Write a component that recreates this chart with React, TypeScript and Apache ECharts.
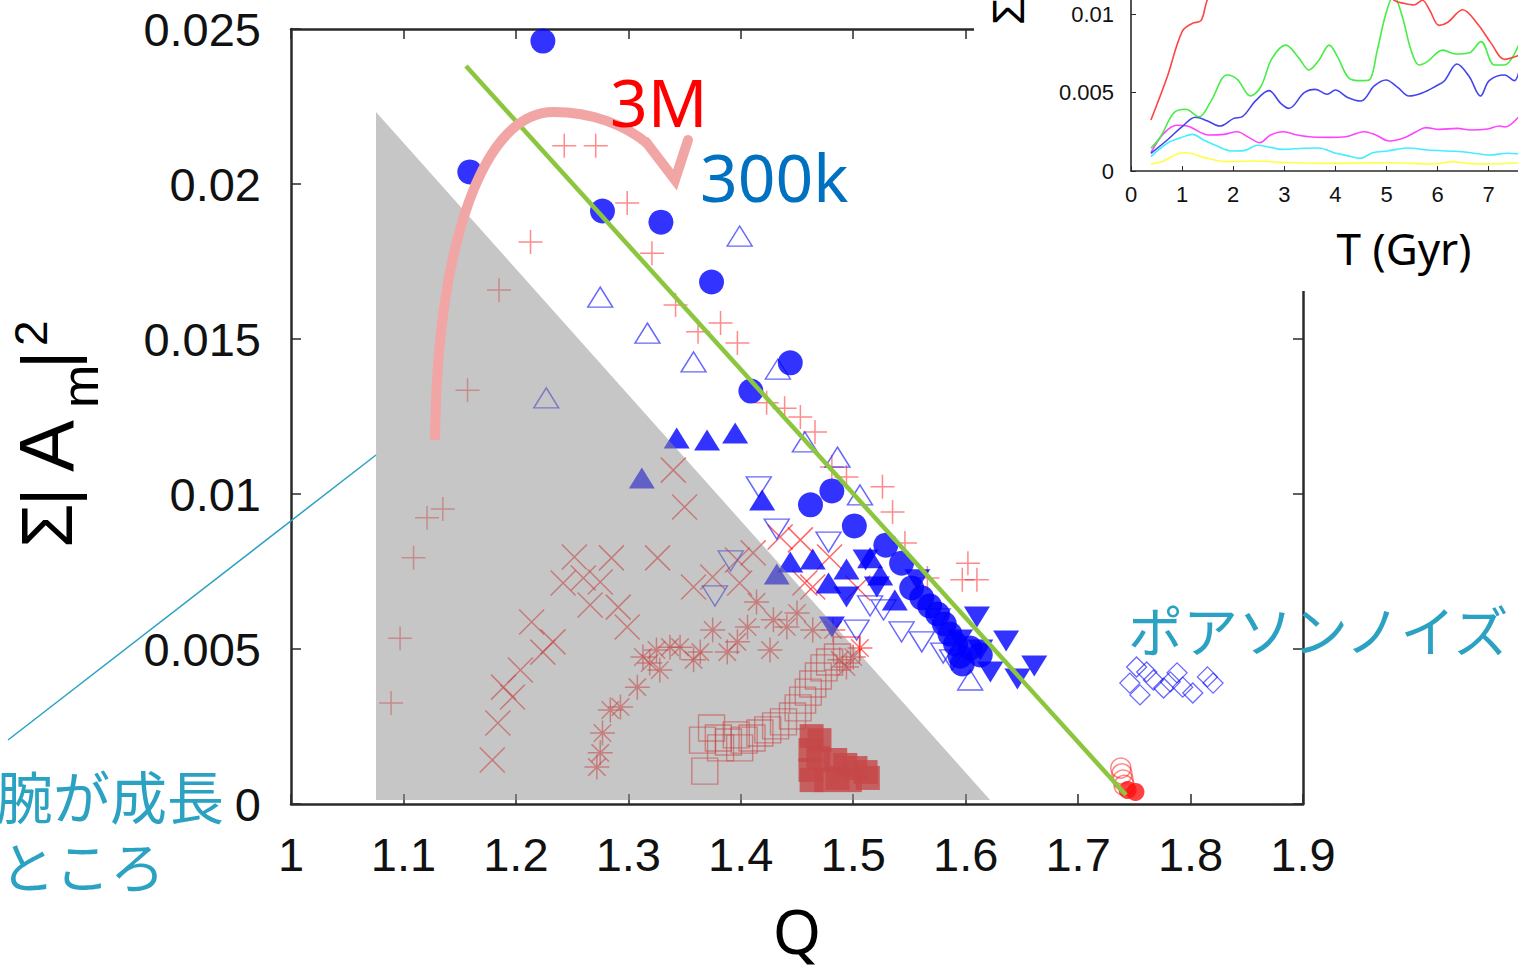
import React, { useEffect, useRef } from "react";
import * as echarts from "echarts";

// ---------- main panel data: [Q, Σ|Am|^2] ----------
const blueFilledCircles = [
  [1.224, 0.02461], [1.159, 0.02039], [1.277, 0.01913], [1.329, 0.01877], [1.374, 0.01684],
  [1.444, 0.01423], [1.409, 0.01332], [1.481, 0.0101], [1.462, 0.00965], [1.501, 0.00897],
  [1.529, 0.00835], [1.543, 0.00777], [1.552, 0.00697], [1.561, 0.00665], [1.568, 0.00639],
  [1.575, 0.00613], [1.581, 0.00581], [1.586, 0.00548], [1.591, 0.00516], [1.595, 0.00477],
  [1.597, 0.00452], [1.604, 0.00503], [1.613, 0.00481],
];
const blueOpenUp = [
  [1.399, 0.01832], [1.275, 0.01635], [1.317, 0.01519], [1.358, 0.01426], [1.227, 0.0131],
  [1.433, 0.01403], [1.457, 0.01168], [1.486, 0.01119], [1.506, 0.00997], [1.604, 0.004],
];
const blueOpenDown = [
  [1.416, 0.01023], [1.432, 0.00887], [1.478, 0.00845], [1.391, 0.00784], [1.377, 0.00671],
  [1.503, 0.00561], [1.515, 0.00639], [1.527, 0.00626], [1.543, 0.00555], [1.561, 0.00523],
  [1.575, 0.00597], [1.58, 0.00487], [1.588, 0.00465],
];
const blueFilledUp = [
  [1.343, 0.01181], [1.37, 0.01174], [1.395, 0.01197], [1.312, 0.01052], [1.419, 0.00981],
  [1.432, 0.00742], [1.444, 0.00781], [1.464, 0.0079], [1.494, 0.00758], [1.478, 0.00713],
  [1.515, 0.00794], [1.537, 0.00658], [1.524, 0.00739],
];
const blueFilledDown = [
  [1.61, 0.00603], [1.636, 0.00526], [1.661, 0.00445], [1.622, 0.00426], [1.646, 0.00403],
  [1.494, 0.00668], [1.521, 0.007], [1.481, 0.00571], [1.557, 0.00723], [1.595, 0.00529],
  [1.511, 0.00787], [1.613, 0.00497],
];
const redPlus = [
  [1.243, 0.02123], [1.271, 0.02123], [1.299, 0.01939], [1.213, 0.01813], [1.321, 0.01777],
  [1.185, 0.01658], [1.157, 0.01335], [1.342, 0.0161], [1.382, 0.01552], [1.362, 0.01523],
  [1.397, 0.01487], [1.423, 0.01294], [1.439, 0.01277], [1.453, 0.01248], [1.466, 0.012],
  [1.481, 0.01087], [1.494, 0.01055], [1.526, 0.01023], [1.535, 0.00942], [1.546, 0.00842],
  [1.566, 0.00729], [1.602, 0.00777], [1.61, 0.00723], [1.597, 0.00723],
  [1.135, 0.00952], [1.121, 0.00923], [1.109, 0.00794], [1.097, 0.00535], [1.089, 0.00326],
];
const redCross = [
  [1.179, 0.00142], [1.184, 0.00261], [1.189, 0.00377], [1.197, 0.00345], [1.204, 0.00432],
  [1.214, 0.00587], [1.224, 0.0049], [1.233, 0.00523], [1.242, 0.00713], [1.252, 0.00797],
  [1.26, 0.00729], [1.266, 0.00642], [1.275, 0.00716], [1.285, 0.00794], [1.291, 0.00635],
  [1.299, 0.00571], [1.326, 0.00794], [1.34, 0.01077], [1.35, 0.00958], [1.358, 0.007],
  [1.375, 0.00732], [1.397, 0.00787], [1.411, 0.0081], [1.399, 0.00713], [1.435, 0.00861],
  [1.453, 0.00852], [1.464, 0.007], [1.479, 0.00797], [1.457, 0.00713], [1.504, 0.00697],
];
const redAsterisk = [
  [1.272, 0.00119], [1.275, 0.00165], [1.277, 0.00229], [1.284, 0.00303], [1.293, 0.00313],
  [1.308, 0.00377], [1.313, 0.00474], [1.319, 0.00455], [1.328, 0.00432], [1.337, 0.00506],
  [1.346, 0.00506], [1.358, 0.00465], [1.364, 0.0049], [1.375, 0.00561], [1.388, 0.0049],
  [1.397, 0.00523], [1.406, 0.00571], [1.414, 0.00652], [1.429, 0.00594], [1.426, 0.00497],
  [1.441, 0.00571], [1.45, 0.00616], [1.464, 0.00561], [1.482, 0.00561], [1.488, 0.00465],
  [1.494, 0.00442], [1.5, 0.00474], [1.506, 0.00503], [1.325, 0.00497],
];
const redOpenSquares = [
  [1.368, 0.00106], [1.374, 0.00245], [1.366, 0.00206], [1.38, 0.00213], [1.389, 0.002],
  [1.396, 0.00223], [1.403, 0.00206], [1.41, 0.00213], [1.417, 0.00229], [1.424, 0.00239],
  [1.431, 0.00252], [1.438, 0.00265], [1.446, 0.00284], [1.451, 0.0031], [1.455, 0.00335],
  [1.46, 0.00361], [1.464, 0.00387], [1.469, 0.00413], [1.474, 0.00439], [1.479, 0.00458],
  [1.486, 0.00474], [1.494, 0.00497], [1.382, 0.00181], [1.399, 0.00181],
];
const redFilledSquares = [
  [1.463, 0.00219], [1.47, 0.00206], [1.462, 0.00174], [1.469, 0.00148], [1.462, 0.0011],
  [1.463, 0.00077], [1.476, 0.00077], [1.484, 0.00142], [1.493, 0.00126], [1.502, 0.00116],
  [1.511, 0.00103], [1.513, 0.00084], [1.497, 0.00077], [1.486, 0.00084],
];
const redOpenCircles = [[1.738, 0.00116], [1.739, 0.00097], [1.74, 0.00077], [1.741, 0.0006]];
const redFilledCircles = [[1.744, 0.00045], [1.751, 0.00039]];
const blueDiamonds = [
  [1.752, 0.00442], [1.746, 0.0039], [1.755, 0.00352], [1.767, 0.004], [1.776, 0.00374],
  [1.788, 0.00423], [1.793, 0.00377], [1.802, 0.00358], [1.815, 0.0041], [1.82, 0.0039],
  [1.761, 0.00426], [1.782, 0.00394],
];
const grayTriangle = [[1.0756, 0.02232], [1.0756, 0.00013], [1.6217, 0.00013]];
const fitLine = [[1.1556, 0.02381], [1.7426, 0.00029]];

// ---------- inset data: [T (Gyr), Σ|Am|^2] ----------
const insetRed = [
  [0.39, 0.00326], [0.71, 0.00602], [1.0, 0.0089], [1.2, 0.00943], [1.37, 0.0096], [1.49, 0.0109],
  [1.7, 0.0122], [2.2, 0.0132], [3.0, 0.0138], [4.0, 0.0135], [4.8, 0.0122], [5.15, 0.0109],
  [5.35, 0.0107], [5.54, 0.0106], [5.7, 0.0109], [5.84, 0.0103], [6.03, 0.0093], [6.2, 0.0095],
  [6.49, 0.0103], [6.78, 0.0094], [7.05, 0.00815], [7.31, 0.00713], [7.6, 0.0074],
];
const insetGreen = [
  [0.39, 0.00145], [0.58, 0.0022], [0.84, 0.00372], [1.07, 0.00394], [1.33, 0.00347], [1.56, 0.00443],
  [1.88, 0.00613], [2.08, 0.00585], [2.34, 0.00479], [2.54, 0.00538], [2.76, 0.00719], [3.03, 0.00804],
  [3.29, 0.00719], [3.48, 0.00645], [3.68, 0.00709], [3.88, 0.00804], [4.04, 0.0073], [4.27, 0.00592],
  [4.5, 0.00577], [4.66, 0.00581], [4.82, 0.00772], [4.99, 0.01007], [5.14, 0.0112], [5.31, 0.00985],
  [5.48, 0.00772], [5.64, 0.00677], [5.8, 0.00698], [6.1, 0.00772], [6.36, 0.00747], [6.62, 0.00755],
  [6.85, 0.00826], [7.11, 0.00677], [7.31, 0.00677], [7.6, 0.00815],
];
const insetBlue = [
  [0.39, 0.00113], [0.71, 0.00198], [1.0, 0.00283], [1.26, 0.00343], [1.49, 0.00321], [1.74, 0.00287],
  [2.01, 0.00336], [2.18, 0.00347], [2.44, 0.00449], [2.7, 0.00513], [2.93, 0.00432], [3.09, 0.004],
  [3.39, 0.005], [3.61, 0.00521], [3.84, 0.0049], [4.0, 0.00517], [4.24, 0.0047], [4.5, 0.00447],
  [4.76, 0.00543], [4.99, 0.00581], [5.22, 0.00534], [5.44, 0.00479], [5.71, 0.005], [5.97, 0.00543],
  [6.13, 0.00575], [6.38, 0.00683], [6.62, 0.00602], [6.84, 0.00479], [7.01, 0.00577], [7.31, 0.00613],
  [7.5, 0.00577], [7.6, 0.00645],
];
const insetMagenta = [
  [0.39, 0.00117], [0.64, 0.0024], [0.9, 0.00292], [1.1, 0.00287], [1.52, 0.0023], [1.82, 0.00234],
  [2.08, 0.00251], [2.31, 0.00213], [2.52, 0.00181], [2.73, 0.0023], [2.99, 0.00251], [3.25, 0.0023],
  [3.55, 0.00217], [3.91, 0.00215], [4.2, 0.00219], [4.56, 0.00251], [4.79, 0.0023], [5.05, 0.00192],
  [5.35, 0.00213], [5.58, 0.00251], [5.77, 0.00277], [6.03, 0.00266], [6.39, 0.00272], [6.65, 0.00262],
  [6.98, 0.00268], [7.21, 0.00287], [7.31, 0.00281], [7.6, 0.00351],
];
const insetCyan = [
  [0.39, 0.00092], [0.71, 0.00177], [1.0, 0.00215], [1.2, 0.00234], [1.42, 0.00198], [1.65, 0.00164],
  [1.98, 0.00128], [2.21, 0.0013], [2.47, 0.00164], [2.73, 0.00151], [2.96, 0.00138], [3.39, 0.00145],
  [3.68, 0.00147], [3.97, 0.00117], [4.27, 0.00096], [4.48, 0.00081], [4.73, 0.00117], [5.02, 0.00128],
  [5.41, 0.00147], [5.8, 0.00134], [6.33, 0.00126], [6.65, 0.00117], [7.01, 0.00102], [7.37, 0.00113],
  [7.6, 0.00109],
];
const insetYellow = [
  [0.39, 0.00045], [0.64, 0.00064], [0.9, 0.00109], [1.1, 0.00117], [1.42, 0.00087], [1.88, 0.0006],
  [2.41, 0.00064], [2.99, 0.00055], [3.84, 0.00049], [4.5, 0.00051], [4.99, 0.00053], [5.48, 0.00049],
  [5.93, 0.00045], [6.29, 0.0006], [6.59, 0.00049], [7.11, 0.00045], [7.6, 0.00053],
];

const PLUS = "path://M5,0L5,10M0,5L10,5";
const CROSS = "path://M0,0L10,10M10,0L0,10";
const STAR = "path://M5,0L5,10M0,5L10,5M1.5,1.5L8.5,8.5M8.5,1.5L1.5,8.5";

const fmt = (v: number) => String(parseFloat(v.toFixed(4)));
// inset: only the ticks that fall inside the visible picture carry a label
const insetXFmt = (v: number) => (v <= 7 ? String(v) : "");
const insetYFmt = (v: number) => (v <= 0.0101 ? fmt(v) : "");

function scatter(data: number[][], symbol: string, size: any, itemStyle: any, extra: any = {}) {
  return {
    type: "scatter",
    xAxisIndex: 0,
    yAxisIndex: 0,
    data,
    symbol,
    symbolSize: size,
    itemStyle,
    z: 2,
    ...extra,
  };
}

function insetLine(data: number[][], color: string) {
  return {
    type: "line",
    xAxisIndex: 2,
    yAxisIndex: 2,
    data,
    smooth: 0.35,
    showSymbol: false,
    symbol: "none",
    lineStyle: { color, width: 1.6 },
    z: 60,
  };
}

const AX = "#2a2a2a";
const TEAL = "#2ba2c2";
const PINK = "#f2a5a5";

export default function App() {
  const ref = useRef<HTMLDivElement>(null);
  useEffect(() => {
    const chart = echarts.init(ref.current!, null, { renderer: "svg" });
    const mainAxisLine = { show: true, onZero: false, lineStyle: { color: AX, width: 2.5 } };
    const mainTick = { show: true, inside: true, length: 10, lineStyle: { color: AX, width: 1.5 } };
    const option: any = {
      animation: false,
      backgroundColor: "#ffffff",
      grid: [
        { left: 291, top: 29, width: 1012, height: 775, outerBoundsMode: "none", containLabel: false },
        { left: 1131, top: -63.9, width: 511, height: 234.9, outerBoundsMode: "none", containLabel: false },
      ],
      xAxis: [
        {
          gridIndex: 0, type: "value", min: 1, max: 1.9, interval: 0.1, position: "bottom",
          axisLine: mainAxisLine, axisTick: mainTick, splitLine: { show: false },
          axisLabel: { fontSize: 47, color: "#111", fontFamily: "Liberation Sans", margin: 27, formatter: fmt },
          name: "Q", nameLocation: "middle", nameGap: 95,
          nameTextStyle: { fontSize: 62, color: "#000", fontFamily: "Noto Sans" },
        },
        {
          gridIndex: 0, type: "value", min: 1, max: 1.9, interval: 0.1, position: "top",
          axisLine: mainAxisLine, axisTick: mainTick, splitLine: { show: false }, axisLabel: { show: false },
        },
        {
          gridIndex: 1, type: "value", min: 0, max: 10, interval: 1, position: "bottom", z: 60,
          axisLine: { show: true, onZero: false, lineStyle: { color: AX, width: 1.6 } },
          axisTick: { show: true, inside: true, length: 5, lineStyle: { color: AX, width: 1 } },
          splitLine: { show: false },
          axisLabel: { fontSize: 22, color: "#111", fontFamily: "Liberation Sans", margin: 12, formatter: insetXFmt },
        },
      ],
      yAxis: [
        {
          gridIndex: 0, type: "value", min: 0, max: 0.025, interval: 0.005, position: "left",
          axisLine: mainAxisLine, axisTick: mainTick, splitLine: { show: false },
          axisLabel: { fontSize: 47, color: "#111", fontFamily: "Liberation Sans", margin: 30, formatter: fmt },
        },
        {
          gridIndex: 0, type: "value", min: 0, max: 0.025, interval: 0.005, position: "right",
          axisLine: mainAxisLine, axisTick: mainTick, splitLine: { show: false }, axisLabel: { show: false },
        },
        {
          gridIndex: 1, type: "value", min: 0, max: 0.015, interval: 0.005, position: "left", z: 60,
          axisLine: { show: true, onZero: false, lineStyle: { color: AX, width: 1.6 } },
          axisTick: { show: true, inside: true, length: 5, lineStyle: { color: AX, width: 1 } },
          splitLine: { show: false },
          axisLabel: { fontSize: 22, color: "#111", fontFamily: "Liberation Sans", margin: 17, formatter: insetYFmt },
        },
      ],
      series: [
        scatter(redOpenSquares, "rect", 26, { color: "rgba(0,0,0,0)", borderColor: "rgba(255,0,0,0.7)", borderWidth: 1.4 }),
        scatter(redFilledSquares, "rect", 24, { color: "#ff0000" }),
        scatter(redCross, CROSS, 25, { color: "rgba(0,0,0,0)", borderColor: "rgba(255,0,0,0.75)", borderWidth: 1.5 }),
        scatter(redAsterisk, STAR, 25, { color: "rgba(0,0,0,0)", borderColor: "rgba(255,0,0,0.7)", borderWidth: 1.5 }),
        scatter(redPlus, PLUS, 24, { color: "rgba(0,0,0,0)", borderColor: "rgba(255,30,30,0.65)", borderWidth: 1.5 }),
        scatter(blueOpenUp, "triangle", [25, 20], { color: "rgba(0,0,0,0)", borderColor: "rgba(30,30,255,0.85)", borderWidth: 1.4 }),
        scatter(blueOpenDown, "triangle", [25, 20], { color: "rgba(0,0,0,0)", borderColor: "rgba(30,30,255,0.85)", borderWidth: 1.4 }, { symbolRotate: 180 }),
        scatter(blueFilledUp, "triangle", [26, 21], { color: "#0000ff" }),
        scatter(blueFilledDown, "triangle", [26, 21], { color: "#0000ff" }, { symbolRotate: 180 }),
        scatter(blueFilledCircles, "circle", 25, { color: "#0000ff" }),
        scatter(blueDiamonds, "diamond", [20, 20], { color: "rgba(0,0,0,0)", borderColor: "rgba(20,20,255,0.8)", borderWidth: 1.3 }),
        scatter(redOpenCircles, "circle", 20, { color: "rgba(0,0,0,0)", borderColor: "rgba(255,0,0,0.6)", borderWidth: 1.5 }),
        scatter(redFilledCircles, "circle", 18, { color: "#ff1010" }),
        {
          type: "custom",
          xAxisIndex: 0,
          yAxisIndex: 0,
          z: 3,
          data: [0],
          renderItem: (_params: any, api: any) => ({
            type: "polygon",
            shape: { points: grayTriangle.map((p) => api.coord(p)) },
            style: { fill: "rgba(142,142,142,0.5)" },
          }),
        },
        {
          type: "line",
          xAxisIndex: 0,
          yAxisIndex: 0,
          z: 4,
          data: fitLine,
          symbol: "none",
          lineStyle: { color: "#8cc63f", width: 4.5 },
        },
        insetLine(insetYellow, "#ffff44"),
        insetLine(insetCyan, "#44eeff"),
        insetLine(insetMagenta, "#ff44ff"),
        insetLine(insetBlue, "#4444ee"),
        insetLine(insetGreen, "#44ee44"),
        insetLine(insetRed, "#ff4444"),
      ],
      graphic: [
        { type: "rect", z: 50, shape: { x: 974, y: 0, width: 544, height: 291 }, style: { fill: "#ffffff" } },
        {
          type: "text", z: 100, x: 1404, y: 248,
          style: { text: "T (Gyr)", fontSize: 44, fontFamily: "Noto Sans", fill: "#000", align: "center", verticalAlign: "middle" },
        },
        {
          type: "group", z: 100, x: 1008, y: 25, rotation: Math.PI / 2,
          children: [
            { type: "text", z: 100, x: 0, y: 0, style: { text: "Σ|A", fontSize: 44, fontFamily: "Liberation Sans", fill: "#000", align: "left", verticalAlign: "middle" } },
          ],
        },
        {
          type: "bezierCurve", z: 100,
          shape: { x1: 435, y1: 440, cpx1: 437, cpy1: 240, cpx2: 485, cpy2: 110, x2: 555, y2: 112 },
          style: { stroke: PINK, lineWidth: 10, fill: "none", lineCap: "butt" },
        },
        {
          type: "bezierCurve", z: 100,
          shape: { x1: 554, y1: 112, cpx1: 592, cpy1: 112, cpx2: 625, cpy2: 125, x2: 648, y2: 144 },
          style: { stroke: PINK, lineWidth: 10, fill: "none" },
        },
        {
          type: "polyline", z: 100,
          shape: { points: [[646, 142], [675, 180], [688, 140]] },
          style: { stroke: PINK, lineWidth: 10, fill: "none", lineJoin: "miter", lineCap: "round" },
        },
        {
          type: "text", z: 100, x: 610, y: 101,
          style: { text: "3M", fontSize: 66, fontFamily: "Noto Sans", fill: "#ff0000", align: "left", verticalAlign: "middle" },
        },
        {
          type: "text", z: 100, x: 700, y: 176,
          style: { text: "300k", fontSize: 66, fontFamily: "Noto Sans", fill: "#0070c0", align: "left", verticalAlign: "middle" },
        },
        {
          type: "text", z: 100, x: 1128, y: 628,
          style: { text: "ポアソンノイズ", fontSize: 55, fontFamily: "Noto Sans CJK JP", fill: TEAL, align: "left", verticalAlign: "middle" },
        },
        {
          type: "text", z: 100, x: 224, y: 794,
          style: { text: "腕が成長", fontSize: 57, fontFamily: "Noto Sans CJK JP", fill: TEAL, align: "right", verticalAlign: "middle" },
        },
        {
          type: "text", z: 100, x: 0, y: 864,
          style: { text: "ところ", fontSize: 55, fontFamily: "Noto Sans CJK JP", fill: TEAL, align: "left", verticalAlign: "middle" },
        },
        {
          type: "line", z: 100,
          shape: { x1: 8, y1: 740, x2: 376, y2: 455 },
          style: { stroke: TEAL, lineWidth: 1.5 },
        },
        {
          type: "group", z: 100, x: 47, y: 548, rotation: Math.PI / 2,
          children: [
            { type: "text", z: 100, x: 0, y: 0, style: { text: "Σ", fontSize: 72, fontFamily: "Liberation Sans", fill: "#000", align: "left", verticalAlign: "middle" } },
            { type: "text", z: 100, x: 51, y: 0, style: { text: "|", fontSize: 72, fontFamily: "Liberation Sans", fill: "#000", align: "center", verticalAlign: "middle" } },
            { type: "text", z: 100, x: 76, y: 0, style: { text: "A", fontSize: 78, fontFamily: "Liberation Sans", fill: "#000", align: "left", verticalAlign: "middle" } },
            { type: "text", z: 100, x: 140, y: 33, style: { text: "m", fontSize: 52, fontFamily: "Liberation Sans", fill: "#000", align: "left", verticalAlign: "middle" } },
            { type: "text", z: 100, x: 188, y: 0, style: { text: "|", fontSize: 72, fontFamily: "Liberation Sans", fill: "#000", align: "center", verticalAlign: "middle" } },
            { type: "text", z: 100, x: 202, y: -16, style: { text: "2", fontSize: 46, fontFamily: "Liberation Sans", fill: "#000", align: "left", verticalAlign: "middle" } },
          ],
        },
      ],
    };
    chart.setOption(option);
    return () => chart.dispose();
  }, []);
  return (
    <div
      ref={ref}
      style={{ position: "absolute", left: 0, top: 0, width: 1518, height: 965, background: "#fff" }}
    />
  );
}
